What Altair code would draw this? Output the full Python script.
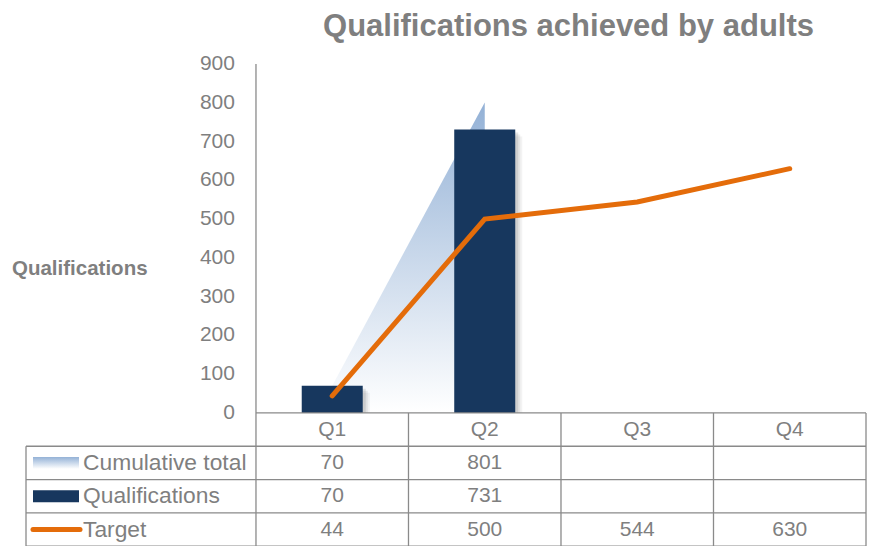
import altair as alt
import pandas as pd

# ---------------- data ----------------
quarters = ["Q1", "Q2", "Q3", "Q4"]
cumulative = [70, 801, None, None]
qualifications = [70, 731, None, None]
target = [44, 500, 544, 630]
y_ticks = [0, 100, 200, 300, 400, 500, 600, 700, 800, 900]
row_labels = ["Cumulative total", "Qualifications", "Target"]
title_text = "Qualifications achieved by adults"
y_title = "Qualifications"

# ---------------- style ----------------
FONT = "Liberation Sans"
GRAY = "#7f7f7f"
LINE_GRAY = "#8a8a8a"
NAVY = "#17375E"
ORANGE = "#E46C0A"
ROW_H = 86  # table row height in y-units
X_MIN, X_MAX = -2.008, 3.5
Y_MIN, Y_MAX = -364, 900


def grad():
    return alt.LinearGradient(
        gradient="linear", x1=0, y1=0, x2=0, y2=1,
        stops=[alt.GradientStop(offset=0, color="#93B1D6"),
               alt.GradientStop(offset=1, color="#FFFFFF")])


XS = alt.Scale(domain=[X_MIN, X_MAX], nice=False, zero=False)
YS = alt.Scale(domain=[Y_MIN, Y_MAX], nice=False, zero=False)

n = len(quarters)
series = pd.DataFrame({
    "q": quarters,
    "i": list(range(n)),
    "cum": cumulative,
    "qual": qualifications,
    "target": target,
})
series["base"] = 0
series["hy"] = -ROW_H / 2

# ---------------- plot marks ----------------
cum_df = series[series["cum"].notna()]
area = alt.Chart(cum_df).mark_area(color=grad()).encode(
    x=alt.X("i:Q", scale=XS, axis=None),
    y=alt.Y("cum:Q", scale=YS, axis=None),
    y2="base:Q",
)

bars_df = series[series["qual"].notna()].copy()
bars_df["x0"] = bars_df["i"] - 0.2
bars_df["x1"] = bars_df["i"] + 0.2

shadows = []
for off, op in [(7, 0.07), (5, 0.10), (3, 0.15)]:
    shadows.append(alt.Chart(bars_df).mark_rect(
        color="#555555", opacity=op, xOffset=off, x2Offset=off, yOffset=off
    ).encode(
        x=alt.X("x0:Q", scale=XS, axis=None),
        x2="x1:Q",
        y=alt.Y("qual:Q", scale=YS, axis=None),
        y2="base:Q",
    ))

bars = alt.Chart(bars_df).mark_rect(color=NAVY).encode(
    x=alt.X("x0:Q", scale=XS, axis=None),
    x2="x1:Q",
    y=alt.Y("qual:Q", scale=YS, axis=None),
    y2="base:Q",
)

line = alt.Chart(series).mark_line(
    color=ORANGE, strokeWidth=5, strokeCap="round"
).encode(
    x=alt.X("i:Q", scale=XS, axis=None),
    y=alt.Y("target:Q", scale=YS, axis=None),
)

# ---------------- grid / table lines ----------------
nr = len(row_labels)
hlines = pd.DataFrame({
    "y": [0] + [-ROW_H * k for k in range(1, nr + 2)],
    "xa": [-0.5] + [X_MIN] * (nr + 1),
    "xb": [n - 0.5] * (nr + 2),
})
vlines = pd.DataFrame({
    "x": [X_MIN, -0.5] + [i + 0.5 for i in range(n)],
    "ya": [-ROW_H, Y_MAX] + [0] * n,
    "yb": [Y_MIN] * (n + 2),
})
h_rules = alt.Chart(hlines).mark_rule(color=LINE_GRAY, strokeWidth=1.3).encode(
    x=alt.X("xa:Q", scale=XS, axis=None), x2="xb:Q",
    y=alt.Y("y:Q", scale=YS, axis=None))
v_rules = alt.Chart(vlines).mark_rule(color=LINE_GRAY, strokeWidth=1.3).encode(
    x=alt.X("x:Q", scale=XS, axis=None),
    y=alt.Y("ya:Q", scale=YS, axis=None), y2="yb:Q")

# ---------------- y tick labels ----------------
tick_df = pd.DataFrame({"v": y_ticks})
tick_df["xx"] = -0.5
ticks = alt.Chart(tick_df).mark_text(
    align="right", baseline="middle", dx=-21, font=FONT, fontSize=21, color=GRAY
).encode(
    x=alt.X("xx:Q", scale=XS, axis=None),
    y=alt.Y("v:Q", scale=YS, axis=None),
    text="v:Q",
)

# ---------------- table text ----------------
qlabels = alt.Chart(series).mark_text(
    baseline="middle", font=FONT, fontSize=21, color=GRAY
).encode(
    x=alt.X("i:Q", scale=XS, axis=None),
    y=alt.Y("hy:Q", scale=YS, axis=None),
    text="q:N",
)

rows = []
for r, (lab, vals) in enumerate(zip(row_labels, [cumulative, qualifications, target])):
    for i, v in enumerate(vals):
        if v is not None:
            rows.append({"row": lab, "i": i, "v": v, "yc": -ROW_H * (r + 1.5)})
cells = pd.DataFrame(rows)
cell_text = alt.Chart(cells).mark_text(
    baseline="middle", font=FONT, fontSize=21, color=GRAY
).encode(
    x=alt.X("i:Q", scale=XS, axis=None),
    y=alt.Y("yc:Q", scale=YS, axis=None),
    text="v:Q",
)

lab_df = pd.DataFrame({"lab": row_labels,
                       "yc": [-ROW_H * (r + 1.5) for r in range(nr)]})
row_text = alt.Chart(lab_df).mark_text(
    align="left", baseline="middle", font=FONT, fontSize=22.8, color=GRAY
).encode(
    x=alt.value(57),
    y=alt.Y("yc:Q", scale=YS, axis=None),
    text="lab:N",
)

sw_cum = alt.Chart(lab_df.iloc[[0]]).mark_rect(
    color=grad(), yOffset=-6, y2Offset=6
).encode(x=alt.value(7), x2=alt.value(53),
         y=alt.Y("yc:Q", scale=YS, axis=None), y2="yc:Q")
sw_qual = alt.Chart(lab_df.iloc[[1]]).mark_rect(
    color=NAVY, yOffset=-6, y2Offset=6
).encode(x=alt.value(7), x2=alt.value(53),
         y=alt.Y("yc:Q", scale=YS, axis=None), y2="yc:Q")
sw_tgt = alt.Chart(lab_df.iloc[[2]]).mark_rule(
    color=ORANGE, strokeWidth=5, strokeCap="round"
).encode(x=alt.value(7), x2=alt.value(54),
         y=alt.Y("yc:Q", scale=YS, axis=None))

# ---------------- titles ----------------
title = alt.Chart(pd.DataFrame({"t": [title_text]})).mark_text(
    align="center", baseline="alphabetic", font=FONT, fontSize=31,
    fontWeight="bold", color=GRAY
).encode(x=alt.value(542.5), y=alt.value(-27.6), text="t:N")

ytitle = alt.Chart(pd.DataFrame({"t": [y_title]})).mark_text(
    align="left", baseline="middle", font=FONT, fontSize=20.5,
    fontWeight="bold", color=GRAY
).encode(x=alt.value(-14), y=alt.value(205), text="t:N")

chart = alt.layer(
    area, *shadows, bars, line, h_rules, v_rules, ticks, qlabels, cell_text,
    row_text, sw_cum, sw_qual, sw_tgt, title, ytitle
).properties(
    width=840, height=490,
    autosize=alt.AutoSizeParams(type="none"),
    padding={"left": 18, "top": 56, "right": 1, "bottom": 5},
    background="white",
).configure_view(stroke=None)

chart.save("out.html", embed_options={"renderer": "svg", "actions": False})
